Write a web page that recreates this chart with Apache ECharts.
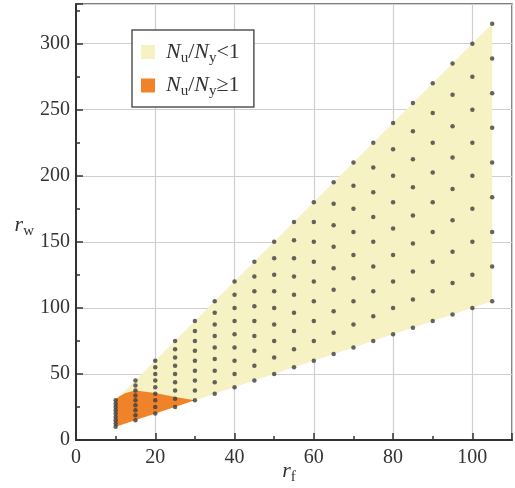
<!DOCTYPE html>
<html>
<head>
<meta charset="utf-8">
<script src="https://cdn.jsdelivr.net/npm/echarts@6/dist/echarts.min.js"></script>
<style>
  html, body { margin: 0; padding: 0; background: #fff; }
  #main { width: 515px; height: 488px; }
</style>
</head>
<body>
<div id="main"></div>
<script>
// r_f of each column of design points
const rf = [10, 15, 20, 25, 30, 35, 40, 45, 50, 55, 60, 65, 70, 75, 80, 85, 90, 95, 100, 105];
// r_w of the points in each column (same order as rf)
const rw = [
  [10, 12.5, 15, 17.5, 20, 22.5, 25, 27.5, 30],
  [15, 18.75, 22.5, 26.25, 30, 33.75, 37.5, 41.25, 45],
  [20, 25, 30, 35, 40, 45, 50, 55, 60],
  [25, 31.25, 37.5, 43.75, 50, 56.25, 62.5, 68.75, 75],
  [30, 37.5, 45, 52.5, 60, 67.5, 75, 82.5, 90],
  [35, 43.75, 52.5, 61.25, 70, 78.75, 87.5, 96.25, 105],
  [40, 50, 60, 70, 80, 90, 100, 110, 120],
  [45, 56.25, 67.5, 78.75, 90, 101.25, 112.5, 123.75, 135],
  [50, 62.5, 75, 87.5, 100, 112.5, 125, 137.5, 150],
  [55, 68.75, 82.5, 96.25, 110, 123.75, 137.5, 151.25, 165],
  [60, 75, 90, 105, 120, 135, 150, 165, 180],
  [65, 81.25, 97.5, 113.75, 130, 146.25, 162.5, 178.75, 195],
  [70, 87.5, 105, 122.5, 140, 157.5, 175, 192.5, 210],
  [75, 93.75, 112.5, 131.25, 150, 168.75, 187.5, 206.25, 225],
  [80, 100, 120, 140, 160, 180, 200, 220, 240],
  [85, 106.25, 127.5, 148.75, 170, 191.25, 212.5, 233.75, 255],
  [90, 112.5, 135, 157.5, 180, 202.5, 225, 247.5, 270],
  [95, 118.75, 142.5, 166.25, 190, 213.75, 237.5, 261.25, 285],
  [100, 125, 150, 175, 200, 225, 250, 275, 300],
  [105, 131.25, 157.5, 183.75, 210, 236.25, 262.5, 288.75, 315]
];
// outline of the region N_u/N_y < 1
const regionLow = [[10, 10], [105, 105], [105, 315], [10, 30]];
// outline of the region N_u/N_y >= 1
const regionHigh = [[10, 10], [30, 30], [25, 32.6], [20, 35.6], [15, 37.4], [12.5, 35.6], [11, 33.2], [10, 30.8]];

const names = ['Nu/Ny<1', 'Nu/Ny>=1'];
const legendText = {
  'Nu/Ny<1': '{g|}{i|N}{s|u}{n|/}{i|N}{s|y}{n|<1}',
  'Nu/Ny>=1': '{g|}{i|N}{s|u}{n|/}{i|N}{s|y}{n|\u22651}'
};

const points = [];
rf.forEach(function (x, i) {
  rw[i].forEach(function (y) {
    points.push([x, y]);
  });
});

const serif = "'Liberation Serif', 'Times New Roman', serif";
const rich = {
  g: { width: 6 },
  i: { fontFamily: serif, fontStyle: 'italic', fontSize: 22, color: '#333' },
  s: { fontFamily: serif, fontSize: 15, color: '#333', padding: [12, 0, 0, 0] },
  n: { fontFamily: serif, fontSize: 22, color: '#333' }
};

function polygonSeries(name, poly, color, z) {
  return {
    name: name,
    type: 'custom',
    z: z,
    itemStyle: { color: color },
    data: poly,
    encode: { x: 0, y: 1 },
    renderItem: function (params, api) {
      if (params.dataIndexInside !== 0) return;
      const pts = poly.map(function (p) { return api.coord(p); });
      return {
        type: 'polygon',
        shape: { points: pts },
        style: { fill: color }
      };
    }
  };
}

const chart = echarts.init(document.getElementById('main'), null, { renderer: 'canvas' });

const axisCommon = {
  type: 'value',
  axisLine: { show: true, onZero: false, lineStyle: { color: '#333', width: 2 } },
  axisTick: { show: true, inside: true, length: 7, lineStyle: { color: '#333', width: 1.5 } },
  minorTick: { show: true, splitNumber: 2, length: 4, lineStyle: { color: '#333', width: 1.5 } },
  splitLine: { show: true, lineStyle: { color: '#cfcfcf', width: 1.2 } },
  axisLabel: {
    fontFamily: serif, fontSize: 20, color: '#333',
    showMaxLabel: false
  }
};

const option = {
  animation: false,
  backgroundColor: '#fff',
  grid: {
    left: 76, right: 3, top: 4, bottom: 48,
    outerBoundsMode: 'none',
    containLabel: false,
    show: true, borderColor: '#555', borderWidth: 1.5
  },
  legend: {
    data: names.map(function (n) { return { name: n, icon: 'rect' }; }),
    orient: 'vertical',
    left: 132, top: 30,
    padding: [10, 14, 8, 9],
    itemWidth: 14, itemHeight: 14,
    itemGap: 8,
    borderColor: '#555', borderWidth: 1.5,
    backgroundColor: '#fff',
    selectedMode: false,
    formatter: function (n) { return legendText[n]; },
    textStyle: { rich: rich, lineHeight: 24 }
  },
  xAxis: Object.assign({}, axisCommon, {
    min: 0, max: 110, interval: 20,
    name: '{i|r}{s|f}',
    nameLocation: 'middle',
    nameMoveOverlap: false,
    nameGap: 18,
    nameTextStyle: { rich: rich, padding: [0, 10, 0, 0] },
    axisLabel: Object.assign({}, axisCommon.axisLabel, { margin: 8 })
  }),
  yAxis: Object.assign({}, axisCommon, {
    min: 0, max: 330, interval: 50,
    name: '{i|r}{s|w}',
    nameLocation: 'middle',
    nameMoveOverlap: false,
    nameRotate: 0,
    nameGap: 42,
    nameTextStyle: { rich: rich, padding: [6, 0, 0, 0] },
    axisLabel: Object.assign({}, axisCommon.axisLabel, { margin: 6 })
  }),
  series: [
    polygonSeries(names[0], regionLow, '#f6f2c4', 1),
    polygonSeries(names[1], regionHigh, '#f0822a', 2),
    {
      name: 'points',
      type: 'scatter',
      z: 3,
      symbolSize: 4.5,
      itemStyle: { color: '#3d3d3d' },
      data: points
    }
  ]
};

chart.setOption(option);
</script>
</body>
</html>
